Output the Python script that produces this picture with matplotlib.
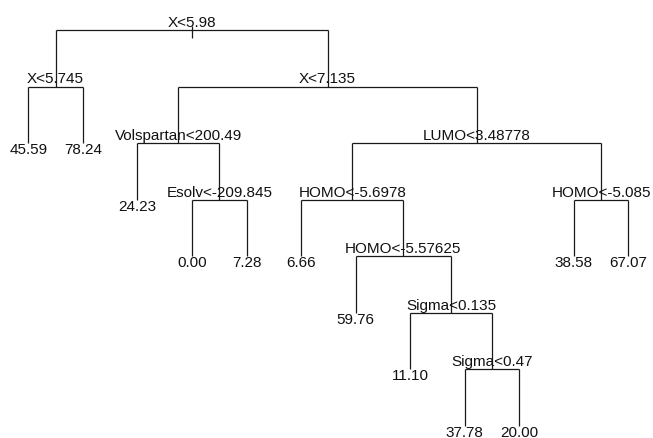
import matplotlib
matplotlib.use("Agg")
import matplotlib.pyplot as plt

# Arbre de régression : numérotation des noeuds à la R (enfants de n = 2n, 2n+1), ordre préfixe
node_ids = [1, 2, 4, 5, 3, 6, 12, 13, 26, 27, 7, 14, 28, 29, 58, 59,
            118, 119, 238, 239, 15, 30, 31]
node_labels = ["X<5.98", "X<5.745", "45.59", "78.24", "X<7.135",
               "Volspartan<200.49", "24.23", "Esolv<-209.845", "0.00", "7.28",
               "LUMO<3.48778", "HOMO<-5.6978", "6.66", "HOMO<-5.57625", "59.76",
               "Sigma<0.135", "11.10", "Sigma<0.47", "37.78", "20.00",
               "HOMO<-5.085", "38.58", "67.07"]

plt.rcParams['font.family'] = ['Liberation Sans', 'DejaVu Sans']

ids = set(node_ids)
label_of = dict(zip(node_ids, node_labels))
is_leaf = {n: (2 * n not in ids) for n in node_ids}
depth = {n: n.bit_length() - 1 for n in node_ids}

# position x : feuilles uniformes, noeuds internes = milieu des enfants
xpos = {}
leaf_count = 0
for n in node_ids:
    if is_leaf[n]:
        xpos[n] = leaf_count
        leaf_count += 1


def get_x(n):
    if n not in xpos:
        xpos[n] = (get_x(2 * n) + get_x(2 * n + 1)) / 2
    return xpos[n]


for n in node_ids:
    get_x(n)

fig = plt.figure(figsize=(6.53, 4.39), dpi=100)
ax = fig.add_axes([0, 0, 1, 1])
ax.set_xlim(-0.52, 11.45)
ax.set_ylim(7.212, -0.548)
ax.axis('off')

line_kw = dict(color='#1a1a1a', lw=0.9, solid_capstyle='butt')

# petit trait de la racine
ax.plot([xpos[1], xpos[1]], [-0.07, 0.14], **line_kw)

for n in node_ids:
    if is_leaf[n]:
        # étiquette de feuille juste sous la fin du trait
        ax.annotate(label_of[n], (xpos[n], depth[n]), xytext=(0, 0.8),
                    textcoords='offset points', ha='center', va='top',
                    fontsize=11, color='#111111')
        continue
    d = depth[n]
    l, r = 2 * n, 2 * n + 1
    ax.plot([xpos[l], xpos[r]], [d, d], **line_kw)
    ax.plot([xpos[l], xpos[l]], [d, d + 1], **line_kw)
    ax.plot([xpos[r], xpos[r]], [d, d + 1], **line_kw)
    ax.annotate(label_of[n], (xpos[n], d), xytext=(0, 3),
                textcoords='offset points', ha='center', va='baseline',
                fontsize=11, color='#111111')

fig.savefig("out.png", dpi=100)
